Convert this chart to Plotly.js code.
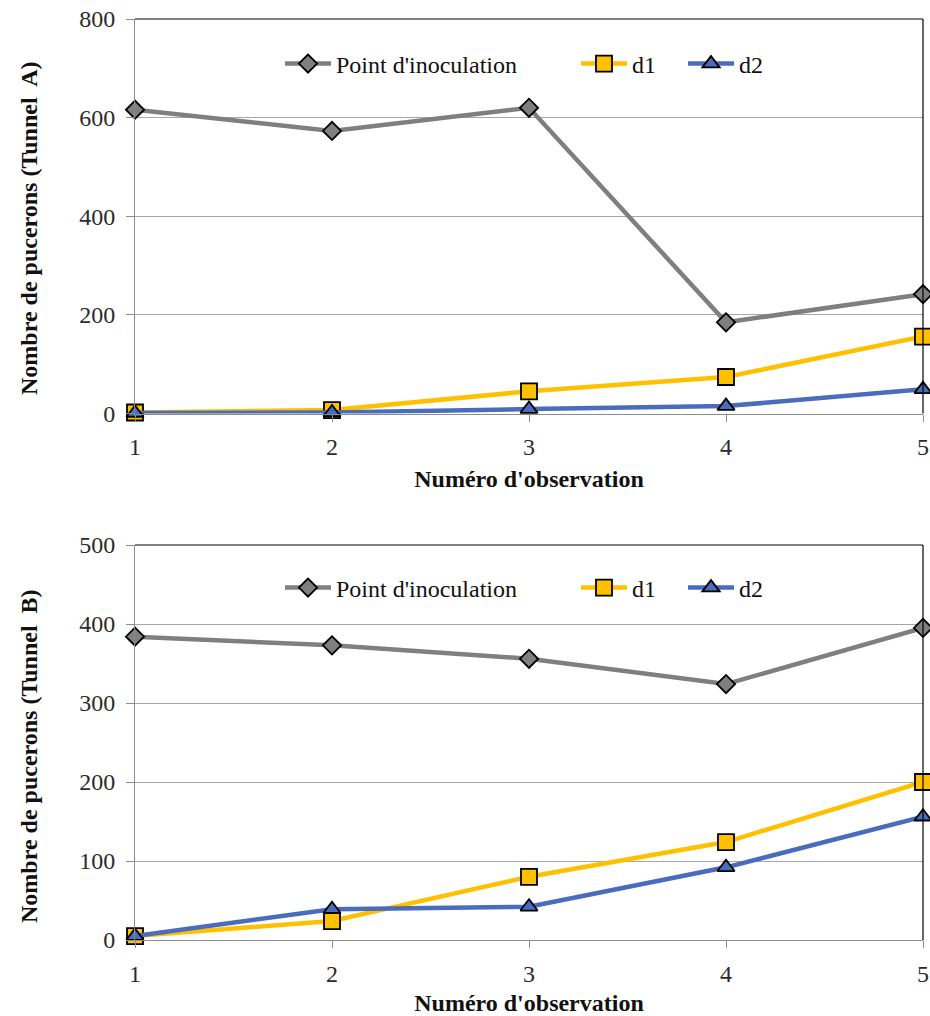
<!DOCTYPE html>
<html>
<head>
<meta charset="utf-8">
<script src="https://cdn.plot.ly/plotly-3.0.1.min.js"></script>
<style>html,body{margin:0;padding:0;background:#fff;}#chart{width:930px;height:1016px;}</style>
</head>
<body>
<div id="chart"></div>
<script>
// ---- data ----
const observations = [1, 2, 3, 4, 5];
const seriesNames = ["Point d'inoculation", "d1", "d2"];

const tunnelA_point = [616, 573, 620, 185, 242];
const tunnelA_d1 = [2, 7, 45, 74, 156];
const tunnelA_d2 = [1, 2, 9, 15, 49];

const tunnelB_point = [384, 373, 356, 324, 395];
const tunnelB_d1 = [5, 24, 80, 124, 200];
const tunnelB_d2 = [5, 39, 42, 92, 156];

const yTitleA = "Nombre de pucerons (Tunnel  A)";
const yTitleB = "Nombre de pucerons (Tunnel  B)";
const xTitle = "Numéro d'observation";

// ---- styles ----
const FONT = "Liberation Serif";
const FS = 24;
const colors = ["#7f7f7f", "#ffc000", "#4a6cbd"];
const symbols = ["diamond", "square", "triangle-up"];
const sizes = [14, 16, 15];

function mk(y, i, xa, ya, legendId) {
  return {
    x: observations, y: y, name: seriesNames[i],
    xaxis: xa, yaxis: ya, legend: legendId,
    mode: "lines+markers", type: "scatter", cliponaxis: false,
    line: {color: colors[i], width: 4.5},
    marker: {symbol: symbols[i], size: sizes[i], color: colors[i], line: {color: "#000", width: 1.8}}
  };
}

const traces = [
  mk(tunnelA_point, 0, "x", "y", "legend"),
  mk(tunnelA_d1, 1, "x", "y", "legend2"),
  mk(tunnelA_d2, 2, "x", "y", "legend3"),
  mk(tunnelB_point, 0, "x2", "y2", "legend4"),
  mk(tunnelB_d1, 1, "x2", "y2", "legend5"),
  mk(tunnelB_d2, 2, "x2", "y2", "legend6")
];

const W = 930, H = 1016;
const xl = 135 / W, xr = 923 / W;
const yA = [1 - 413.5 / H, 1 - 19 / H];
const yB = [1 - 940 / H, 1 - 545 / H];

function xaxisDef(anchor) {
  return {
    domain: [xl, xr], anchor: anchor, range: [1, 5], tickvals: observations,
    showgrid: false, showline: true, linecolor: "#8c8c8c", linewidth: 1,
    ticks: "outside", ticklen: 7, tickcolor: "#8c8c8c", ticklabelstandoff: 5,
    tickfont: {family: FONT, size: FS, color: "#2b2b2b"},
    zeroline: false, automargin: false,
    title: {text: xTitle, font: {family: FONT, size: FS, color: "#111", weight: "bold"}, standoff: 10}
  };
}
function yaxisDef(anchor, domain, maxv, dt) {
  return {
    domain: domain, anchor: anchor, range: [0, maxv], dtick: dt,
    showgrid: true, gridcolor: "#a6a6a6", gridwidth: 1,
    showline: true, linecolor: "#8c8c8c", linewidth: 1,
    ticks: "outside", ticklen: 8, tickcolor: "#8c8c8c", ticklabelstandoff: 6,
    tickfont: {family: FONT, size: FS, color: "#2b2b2b"},
    zeroline: false, automargin: false
  };
}

function legDef(xpx, ypx) {
  return {
    orientation: "h", x: xpx / W, y: 1 - ypx / H, xanchor: "left", yanchor: "middle",
    bgcolor: "rgba(0,0,0,0)", borderwidth: 0,
    font: {family: FONT, size: FS, color: "#111"}, itemwidth: 46
  };
}

const borderLine = {color: "#000", width: 1.2};
const shapes = [
  {type: "line", xref: "x domain", yref: "y domain", x0: 0, x1: 1, y0: 1, y1: 1, line: borderLine},
  {type: "line", xref: "x domain", yref: "y domain", x0: 1, x1: 1, y0: 0, y1: 1, line: borderLine},
  {type: "line", xref: "x2 domain", yref: "y2 domain", x0: 0, x1: 1, y0: 1, y1: 1, line: borderLine},
  {type: "line", xref: "x2 domain", yref: "y2 domain", x0: 1, x1: 1, y0: 0, y1: 1, line: borderLine}
];

function yTitleAnn(text, ycenterPx) {
  return {
    text: "<b>" + text + "</b>", xref: "paper", yref: "paper",
    x: 29 / W, y: 1 - ycenterPx / H, xanchor: "center", yanchor: "middle",
    textangle: -90, showarrow: false,
    font: {family: FONT, size: FS, color: "#111"}
  };
}

const layout = {
  width: W, height: H,
  margin: {l: 0, r: 0, t: 0, b: 0},
  paper_bgcolor: "#fff", plot_bgcolor: "#fff",
  font: {family: FONT, size: FS, color: "#111"},
  showlegend: true,
  xaxis: xaxisDef("y"),
  yaxis: yaxisDef("x", yA, 800, 200),
  xaxis2: xaxisDef("y2"),
  yaxis2: yaxisDef("x2", yB, 500, 100),
  legend: legDef(280, 64),
  legend2: legDef(576, 64),
  legend3: legDef(683, 64),
  legend4: legDef(280, 588),
  legend5: legDef(576, 588),
  legend6: legDef(683, 588),
  shapes: shapes,
  annotations: [yTitleAnn(yTitleA, 228), yTitleAnn(yTitleB, 756)]
};

Plotly.newPlot("chart", traces, layout, {displayModeBar: false, staticPlot: true});
</script>
</body>
</html>
